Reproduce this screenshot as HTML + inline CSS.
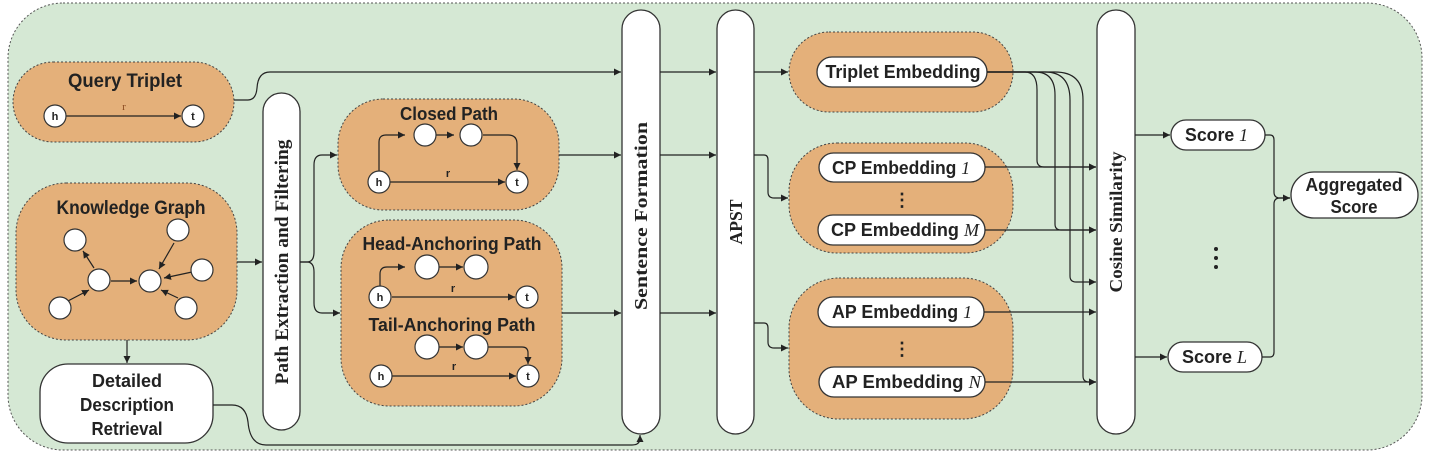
<!DOCTYPE html>
<html><head><meta charset="utf-8"><style>
html,body{margin:0;padding:0;background:#fff;}
svg{display:block;}
.t{font-family:"Liberation Sans",sans-serif;font-weight:bold;fill:#222;}
.v{font-family:"Liberation Serif",serif;font-weight:bold;fill:#222;}
.it{font-family:"Liberation Serif",serif;font-style:italic;font-weight:normal;}
.or{fill:#e4b07a;stroke:#444;stroke-width:1;stroke-dasharray:2,2;}
.wh{fill:#fff;stroke:#333;stroke-width:1.3;}
.ln{fill:none;stroke:#222;stroke-width:1.2;}
.nd{fill:#fff;stroke:#333;stroke-width:1.2;}
.sm{font-family:"Liberation Sans",sans-serif;font-weight:bold;font-size:11px;fill:#222;text-anchor:middle;}
</style></head><body>
<svg width="1430" height="455" viewBox="0 0 1430 455" xmlns="http://www.w3.org/2000/svg">
<defs>
<marker id="a" markerWidth="8" markerHeight="8" refX="7" refY="4" orient="auto" markerUnits="userSpaceOnUse">
<path d="M0,0.5 L7,4 L0,7.5 z" fill="#222"/></marker>
</defs>
<rect x="8" y="3" width="1414" height="447" rx="55" fill="#d5e8d4" stroke="#555" stroke-width="1" stroke-dasharray="2,2"/>

<!-- Query triplet -->
<rect class="or" x="13" y="62" width="221" height="80" rx="40"/>
<text class="t" x="125" y="87" font-size="19" text-anchor="middle" textLength="114" lengthAdjust="spacingAndGlyphs">Query Triplet</text>
<line class="ln" x1="66" y1="116" x2="181" y2="116" marker-end="url(#a)"/>
<text x="124" y="110" font-family="Liberation Serif" font-size="11" fill="#8a4a20" text-anchor="middle">r</text>
<circle class="nd" cx="55" cy="116" r="11"/><text class="sm" x="55" y="120">h</text>
<circle class="nd" cx="193" cy="116" r="11"/><text class="sm" x="193" y="120">t</text>

<!-- Knowledge graph -->
<rect class="or" x="16" y="183" width="221" height="157" rx="50"/>
<text class="t" x="131" y="214" font-size="19" text-anchor="middle" textLength="149" lengthAdjust="spacingAndGlyphs">Knowledge Graph</text>
<g class="ln">
<line x1="66" y1="302" x2="89" y2="290" marker-end="url(#a)"/>
<line x1="94" y1="268" x2="83" y2="251" marker-end="url(#a)"/>
<line x1="111" y1="281" x2="137" y2="281" marker-end="url(#a)"/>
<line x1="174" y1="243" x2="159" y2="269" marker-end="url(#a)"/>
<line x1="192" y1="272" x2="164" y2="278" marker-end="url(#a)"/>
<line x1="178" y1="298" x2="161" y2="290" marker-end="url(#a)"/>
</g>
<circle class="nd" cx="75" cy="240" r="11"/>
<circle class="nd" cx="178" cy="230" r="11"/>
<circle class="nd" cx="99" cy="280" r="11"/>
<circle class="nd" cx="150" cy="281" r="11"/>
<circle class="nd" cx="202" cy="270" r="11"/>
<circle class="nd" cx="60" cy="308" r="11"/>
<circle class="nd" cx="186" cy="308" r="11"/>

<!-- Detailed description -->
<rect class="wh" x="40" y="364" width="173" height="79" rx="28"/>
<text class="t" x="127" y="387" font-size="18" text-anchor="middle" textLength="70" lengthAdjust="spacingAndGlyphs">Detailed</text>
<text class="t" x="127" y="411" font-size="18" text-anchor="middle" textLength="94" lengthAdjust="spacingAndGlyphs">Description</text>
<text class="t" x="127" y="435" font-size="18" text-anchor="middle" textLength="71" lengthAdjust="spacingAndGlyphs">Retrieval</text>

<!-- Vertical bars -->
<rect class="wh" x="263" y="93" width="37" height="337" rx="18.5"/>
<text class="v" font-size="19" text-anchor="middle" transform="translate(288,262) rotate(-90)" textLength="245" lengthAdjust="spacingAndGlyphs">Path Extraction and Filtering</text>
<rect class="wh" x="622" y="10" width="38" height="424" rx="19"/>
<text class="v" font-size="18" text-anchor="middle" transform="translate(647,216) rotate(-90)" textLength="188" lengthAdjust="spacingAndGlyphs">Sentence Formation</text>
<rect class="wh" x="717" y="10" width="37" height="424" rx="18.5"/>
<text class="v" font-size="18" text-anchor="middle" transform="translate(742,222) rotate(-90)" textLength="45" lengthAdjust="spacingAndGlyphs">APST</text>
<rect class="wh" x="1097" y="10" width="38" height="424" rx="19"/>
<text class="v" font-size="18" text-anchor="middle" transform="translate(1122,222) rotate(-90)" textLength="141" lengthAdjust="spacingAndGlyphs">Cosine Similarity</text>

<!-- Closed path -->
<rect class="or" x="338" y="99" width="221" height="111" rx="45"/>
<text class="t" x="449" y="120" font-size="18" text-anchor="middle" textLength="98" lengthAdjust="spacingAndGlyphs">Closed Path</text>
<g class="ln">
<path d="M379,173 V142 Q379,135 386,135 H405" marker-end="url(#a)"/>
<line x1="436" y1="135" x2="454" y2="135" marker-end="url(#a)"/>
<path d="M483,135 H508 Q517,135 517,144 V170" marker-end="url(#a)"/>
<line x1="390" y1="182" x2="505" y2="182" marker-end="url(#a)"/>
</g>
<text class="sm" x="448" y="177">r</text>
<circle class="nd" cx="425" cy="135" r="11"/>
<circle class="nd" cx="471" cy="135" r="11"/>
<circle class="nd" cx="379" cy="182" r="11"/><text class="sm" x="379" y="186">h</text>
<circle class="nd" cx="517" cy="182" r="11"/><text class="sm" x="517" y="186">t</text>

<!-- Head / Tail -->
<rect class="or" x="341" y="220" width="221" height="186" rx="48"/>
<text class="t" x="452" y="250" font-size="18" text-anchor="middle" textLength="179" lengthAdjust="spacingAndGlyphs">Head-Anchoring Path</text>
<g class="ln">
<path d="M380,286 V274 Q380,267 387,267 H405" marker-end="url(#a)"/>
<line x1="439" y1="267" x2="463" y2="267" marker-end="url(#a)"/>
<line x1="392" y1="297" x2="515" y2="297" marker-end="url(#a)"/>
</g>
<text class="sm" x="453" y="292">r</text>
<circle class="nd" cx="427" cy="267" r="12"/>
<circle class="nd" cx="476" cy="267" r="12"/>
<circle class="nd" cx="380" cy="297" r="11"/><text class="sm" x="380" y="301">h</text>
<circle class="nd" cx="527" cy="297" r="11"/><text class="sm" x="527" y="301">t</text>
<text class="t" x="452" y="331" font-size="18" text-anchor="middle" textLength="167" lengthAdjust="spacingAndGlyphs">Tail-Anchoring Path</text>
<g class="ln">
<line x1="439" y1="347" x2="463" y2="347" marker-end="url(#a)"/>
<path d="M488,347 H522 Q528,347 528,353 V364" marker-end="url(#a)"/>
<line x1="392" y1="376" x2="516" y2="376" marker-end="url(#a)"/>
</g>
<text class="sm" x="454" y="370">r</text>
<circle class="nd" cx="427" cy="347" r="12"/>
<circle class="nd" cx="476" cy="347" r="12"/>
<circle class="nd" cx="381" cy="376" r="11"/><text class="sm" x="381" y="380">h</text>
<circle class="nd" cx="528" cy="376" r="11"/><text class="sm" x="528" y="380">t</text>

<!-- Embeddings -->
<rect class="or" x="789" y="32" width="224" height="80" rx="40"/>
<rect class="wh" x="817" y="57" width="170" height="30" rx="15"/>
<text class="t" x="903" y="78" font-size="18" text-anchor="middle" textLength="155" lengthAdjust="spacingAndGlyphs">Triplet Embedding</text>

<rect class="or" x="789" y="143" width="224" height="110" rx="48"/>
<rect class="wh" x="819" y="153" width="166" height="29" rx="14.5"/>
<text class="t" x="832" y="174" font-size="18" textLength="138" lengthAdjust="spacingAndGlyphs">CP Embedding <tspan class="it">1</tspan></text>
<text class="t" x="902" y="206" font-size="18" text-anchor="middle">⋮</text>
<rect class="wh" x="818" y="215" width="167" height="30" rx="15"/>
<text class="t" x="831" y="236" font-size="18" textLength="148" lengthAdjust="spacingAndGlyphs">CP Embedding <tspan class="it">M</tspan></text>

<rect class="or" x="789" y="278" width="224" height="141" rx="50"/>
<rect class="wh" x="818" y="297" width="166" height="30" rx="15"/>
<text class="t" x="832" y="318" font-size="18" textLength="140" lengthAdjust="spacingAndGlyphs">AP Embedding <tspan class="it">1</tspan></text>
<text class="t" x="902" y="355" font-size="18" text-anchor="middle">⋮</text>
<rect class="wh" x="819" y="367" width="166" height="30" rx="15"/>
<text class="t" x="832" y="388" font-size="18" textLength="149" lengthAdjust="spacingAndGlyphs">AP Embedding <tspan class="it">N</tspan></text>

<!-- Scores -->
<rect class="wh" x="1171" y="120" width="94" height="30" rx="15"/>
<text class="t" x="1185" y="141" font-size="18" textLength="63" lengthAdjust="spacingAndGlyphs">Score <tspan class="it">1</tspan></text>
<rect class="wh" x="1168" y="342" width="94" height="30" rx="15"/>
<text class="t" x="1182" y="363" font-size="18" textLength="65" lengthAdjust="spacingAndGlyphs">Score <tspan class="it">L</tspan></text>
<rect class="wh" x="1291" y="172" width="127" height="46" rx="23"/>
<text class="t" x="1354" y="191" font-size="18" text-anchor="middle" textLength="97" lengthAdjust="spacingAndGlyphs">Aggregated</text>
<text class="t" x="1354" y="213" font-size="18" text-anchor="middle" textLength="47" lengthAdjust="spacingAndGlyphs">Score</text>
<circle cx="1216" cy="249" r="2" fill="#222"/><circle cx="1216" cy="258" r="2" fill="#222"/><circle cx="1216" cy="267" r="2" fill="#222"/>

<!-- Connectors -->
<g class="ln">
<path d="M234,100 H248 Q256,100 257,88 Q258,72 270,72 H621" marker-end="url(#a)"/>
<line x1="660" y1="72" x2="716" y2="72" marker-end="url(#a)"/>
<line x1="754" y1="72" x2="788" y2="72" marker-end="url(#a)"/>
<line x1="237" y1="262" x2="262" y2="262" marker-end="url(#a)"/>
<path d="M300,262 H307 Q314,262 314,252 V165 Q314,155 322,155 H337" marker-end="url(#a)"/>
<path d="M300,262 H307 Q314,262 314,272 V303 Q314,313 322,313 H340" marker-end="url(#a)"/>
<line x1="559" y1="155" x2="621" y2="155" marker-end="url(#a)"/>
<line x1="562" y1="313" x2="621" y2="313" marker-end="url(#a)"/>
<line x1="660" y1="155" x2="716" y2="155" marker-end="url(#a)"/>
<line x1="660" y1="313" x2="716" y2="313" marker-end="url(#a)"/>
<path d="M754,155 H764 Q768,155 768,160 V192 Q768,198 774,198 H788" marker-end="url(#a)"/>
<path d="M754,323 H764 Q768,323 768,328 V342 Q768,348 774,348 H788" marker-end="url(#a)"/>
<line x1="127" y1="340" x2="127" y2="363" marker-end="url(#a)"/>
<path d="M213,405 H232 Q246,405 248,422 Q250,445 266,445 H632 Q640,445 640,438 V435" marker-end="url(#a)"/>
<path d="M987,72 H1025 Q1037,72 1037,90 V160 Q1037,167 1044,167 H1096" marker-end="url(#a)"/>
<path d="M987,72 H1035 Q1055,72 1055,95 V224 Q1055,230 1061,230 H1096" marker-end="url(#a)"/>
<path d="M987,72 H1045 Q1070,72 1070,100 V276 Q1070,282 1076,282 H1096" marker-end="url(#a)"/>
<path d="M987,72 H1055 Q1083,72 1083,100 V376 Q1083,382 1089,382 H1096" marker-end="url(#a)"/>
<line x1="985" y1="167" x2="1096" y2="167" marker-end="url(#a)"/>
<line x1="985" y1="230" x2="1096" y2="230" marker-end="url(#a)"/>
<line x1="984" y1="312" x2="1096" y2="312" marker-end="url(#a)"/>
<line x1="985" y1="382" x2="1096" y2="382" marker-end="url(#a)"/>
<line x1="1135" y1="135" x2="1170" y2="135" marker-end="url(#a)"/>
<line x1="1135" y1="357" x2="1167" y2="357" marker-end="url(#a)"/>
<path d="M1265,135 H1270 Q1274,135 1274,140 V192 Q1274,198 1280,198 H1290" marker-end="url(#a)"/>
<path d="M1262,357 H1270 Q1274,357 1274,352 V204 Q1274,198 1280,198 H1290"/>
</g>
</svg>
</body></html>
